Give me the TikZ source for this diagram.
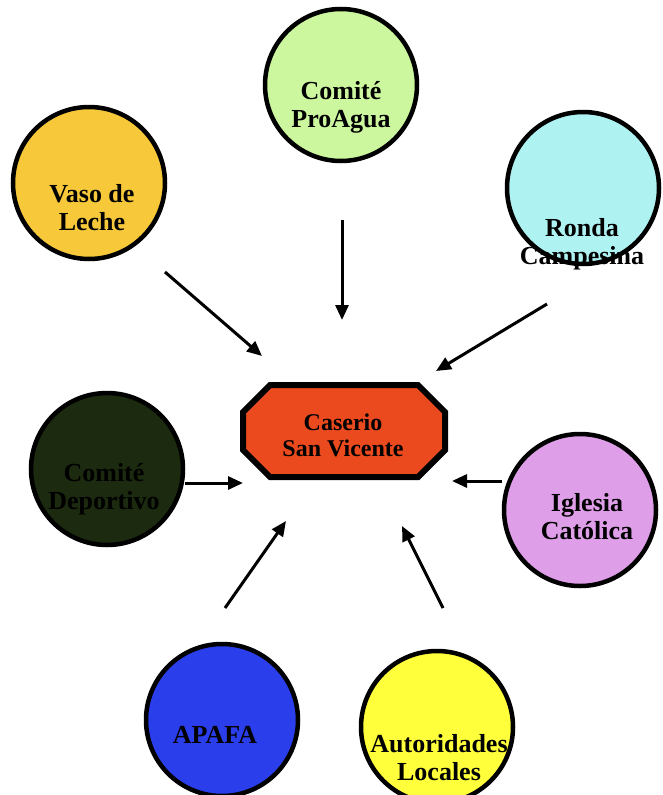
\documentclass[tikz,border=0pt]{standalone}
\usepackage{fontspec}
\setmainfont{Liberation Serif}
\usetikzlibrary{arrows.meta}
\definecolor{cgreen}{HTML}{CCF79E}
\definecolor{cgold}{HTML}{F7C83A}
\definecolor{ccyan}{HTML}{AEF2F2}
\definecolor{cdark}{HTML}{1C2A10}
\definecolor{cviolet}{HTML}{DE9EE8}
\definecolor{cblue}{HTML}{2B3EEB}
\definecolor{cyel}{HTML}{FFFF3C}
\definecolor{cred}{HTML}{EB4A1E}
\tikzset{
  org/.style={circle, draw=black, line width=4.5pt, minimum size=152pt, inner sep=0pt},
  lbl/.style={font=\fontsize{26}{28}\selectfont\bfseries, align=center, text=black, inner sep=0pt},
  hublbl/.style={font=\fontsize{24}{26}\selectfont\bfseries, align=center, text=black, inner sep=0pt},
  arr/.style={line width=3pt, -{Triangle[length=15pt,width=13pt]}},
  hub/.style={draw=black, line width=6pt, fill=cred, line join=miter}
}
\begin{document}
\begin{tikzpicture}[x=1pt,y=-1pt]
\useasboundingbox (0,0) rectangle (662,795);
% circles
\node[org, fill=cgreen] (proagua) at (341,85) {};
\node[org, fill=cgold] (vaso) at (89,183) {};
\node[org, fill=ccyan] (ronda) at (583,188) {};
\node[org, fill=cdark] (deport) at (107,469) {};
\node[org, fill=cviolet] (iglesia) at (580,510) {};
\node[org, fill=cblue] (apafa) at (222,720) {};
\node[org, fill=cyel] (autor) at (437,727) {};
% hub
\draw[hub] (270,385) -- (418,385) -- (445,412) -- (445,450) -- (418,477) -- (270,477) -- (243,450) -- (243,412) -- cycle;
\node[hublbl] (cas) at (343,435) {Caserio\\San Vicente};
% labels
\node[lbl] (proagua-t) at (341,107) {Comité\\ProAgua};
\node[lbl] (vaso-t) at (92,208) {Vaso de\\Leche};
\node[lbl] (ronda-t) at (582,244) {Ronda\\Campesina};
\node[lbl] (deport-t) at (104,489) {Comité\\Deportivo};
\node[lbl] (iglesia-t) at (587,517) {Iglesia\\Católica};
\node[lbl] (apafa-t) at (215,735) {APAFA};
\node[lbl] (autor-t) at (439,758) {Autoridades\\Locales};
% arrow ends
\coordinate (a1s) at (165,272); \coordinate (a1e) at (262,356);
\coordinate (a2s) at (342,220); \coordinate (a2e) at (342,320);
\coordinate (a3s) at (547,304); \coordinate (a3e) at (436,371);
\coordinate (a4e) at (243,483);
\coordinate (a5e) at (452,481);
\coordinate (a6s) at (225,608); \coordinate (a6e) at (286,521);
\coordinate (a7s) at (443,608); \coordinate (a7e) at (402,526);
\draw[arr] (a1s) -- (a1e);
\draw[arr] (a2s) -- (a2e);
\draw[arr] (a3s) -- (a3e);
\draw[arr] (deport.east |- a4e) -- (a4e);
\draw[arr] (iglesia.west |- a5e) -- (a5e);
\draw[arr] (a6s) -- (a6e);
\draw[arr] (a7s) -- (a7e);
\end{tikzpicture}
\end{document}
